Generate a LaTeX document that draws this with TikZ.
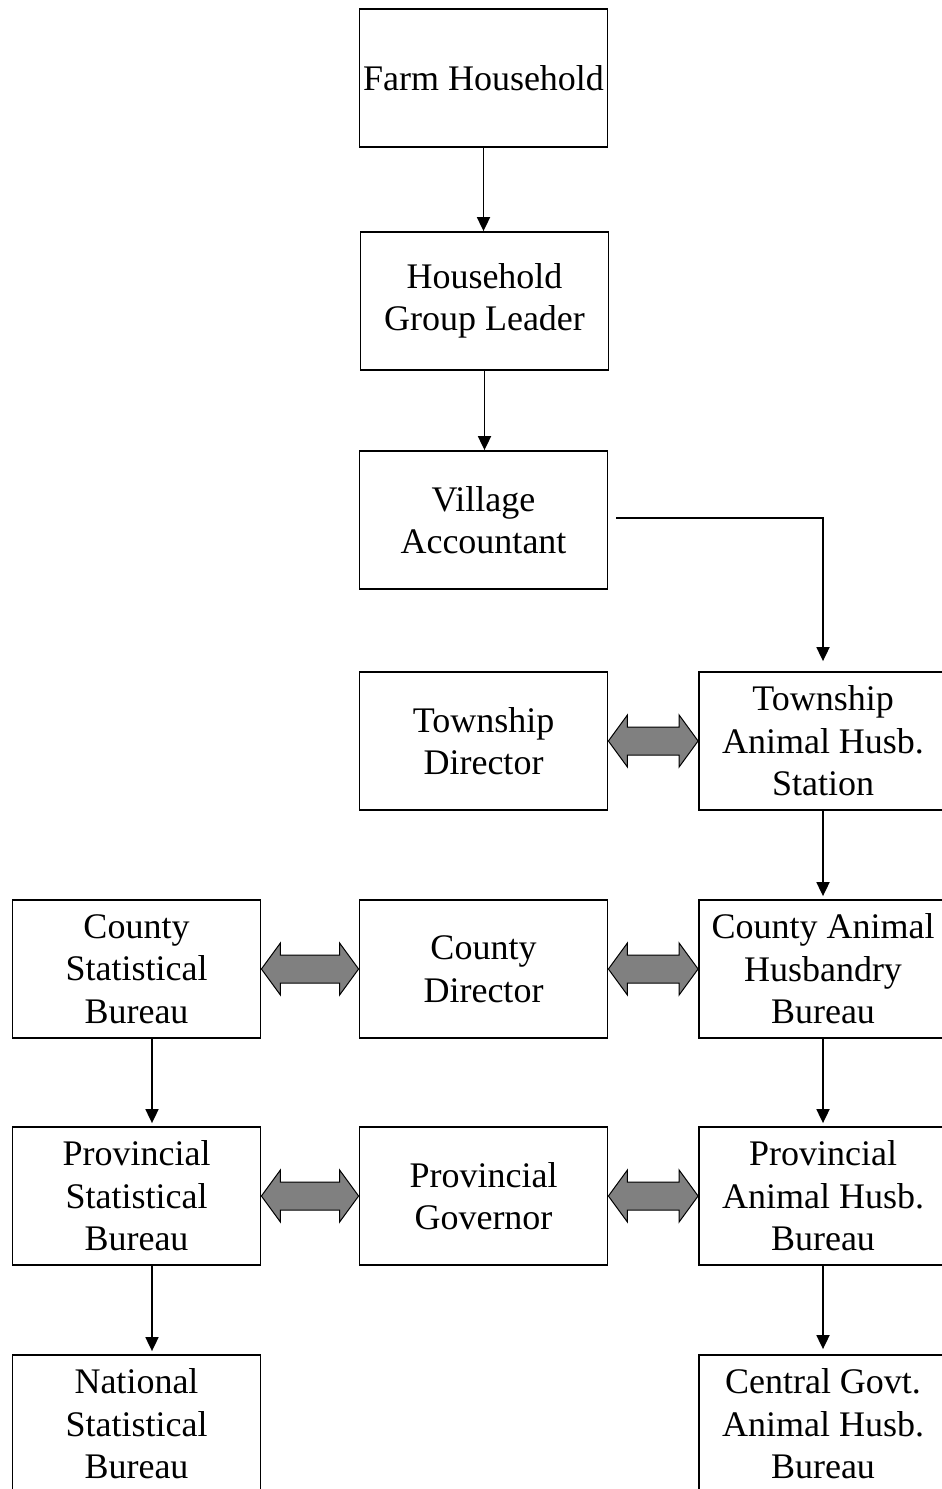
\documentclass[tikz,border=0pt]{standalone}
\usepackage{fontspec}
\setmainfont{Liberation Serif}
\usetikzlibrary{arrows.meta,calc}

% grey two-headed block arrow between two boxes
\newcommand{\dblarrow}[2]{%
  \draw[blockarr] let \p1=(#1.east), \p2=(#2.west) in
    (\x1,\y1) -- (\x1+9.5pt,\y1+13pt) -- (\x1+9.5pt,\y1+7pt)
    -- (\x2-9.5pt,\y1+7pt) -- (\x2-9.5pt,\y1+13pt) -- (\x2,\y1)
    -- (\x2-9.5pt,\y1-13pt) -- (\x2-9.5pt,\y1-7pt)
    -- (\x1+9.5pt,\y1-7pt) -- (\x1+9.5pt,\y1-13pt) -- cycle;}

\begin{document}
\begin{tikzpicture}[x=0.5pt,y=-0.5pt,
  box/.style={draw,line width=0.9pt,minimum width=124pt,minimum height=69pt,
    align=center,inner sep=0pt,font=\fontsize{18}{21.3}\selectfont},
  arr/.style={line width=0.9pt,-{Triangle[width=6.5pt,length=7pt]}},
  blockarr/.style={fill=gray,line width=0.5pt,line join=miter}]
\clip (0,0) rectangle (942,1489);

   \node[box] at (483.5,78)   (farm) {Farm Household};
   \node[box] at (484.5,301)  (leader) {Household\\Group Leader};
   \node[box] at (483.5,520)  (village) {Village\\Accountant};

   \node[box] at (483.5,741)  (towndir) {Township\\Director};
   \node[box] at (823,741)    (townstat) {Township\\Animal Husb.\\Station};

   \node[box] at (136.5,969)  (countystat) {County\\Statistical\\Bureau};
   \node[box] at (483.5,969)  (countydir) {County\\Director};
   \node[box] at (823,969)    (countyah) {County Animal\\Husbandry\\Bureau};

   \node[box] at (136.5,1196) (provstat) {Provincial\\Statistical\\Bureau};
   \node[box] at (483.5,1196) (provgov) {Provincial\\Governor};
   \node[box] at (823,1196)   (provah) {Provincial\\Animal Husb.\\Bureau};

   \node[box] at (136.5,1424) (natstat) {National\\Statistical\\Bureau};
   \node[box] at (823,1424)   (centralah) {Central Govt.\\Animal Husb.\\Bureau};

    % reporting line
    \draw[arr] (farm.south) -- (leader.north -| farm.south);
    \draw[arr] (leader.south) -- (village.north -| leader.south);
    \draw[arr] ([xshift=4pt,yshift=1pt]village.east) -| ([yshift=5pt]townstat.north);

    \draw[arr] (townstat.south) -- ([yshift=1.5pt]countyah.north);
    \draw[arr] (countyah.south) -- ([yshift=1.5pt]provah.north);
    \draw[arr] (provah.south) -- ([yshift=2.5pt]centralah.north);

    \draw[arr] ([xshift=7.75pt]countystat.south) -- ([xshift=7.75pt,yshift=1.5pt]provstat.north);
    \draw[arr] ([xshift=7.75pt]provstat.south) -- ([xshift=7.75pt,yshift=1.5pt]natstat.north);

    % two-way exchange
    \dblarrow{towndir}{townstat}
    \dblarrow{countystat}{countydir}
    \dblarrow{countydir}{countyah}
    \dblarrow{provstat}{provgov}
    \dblarrow{provgov}{provah}

\end{tikzpicture}
\end{document}
